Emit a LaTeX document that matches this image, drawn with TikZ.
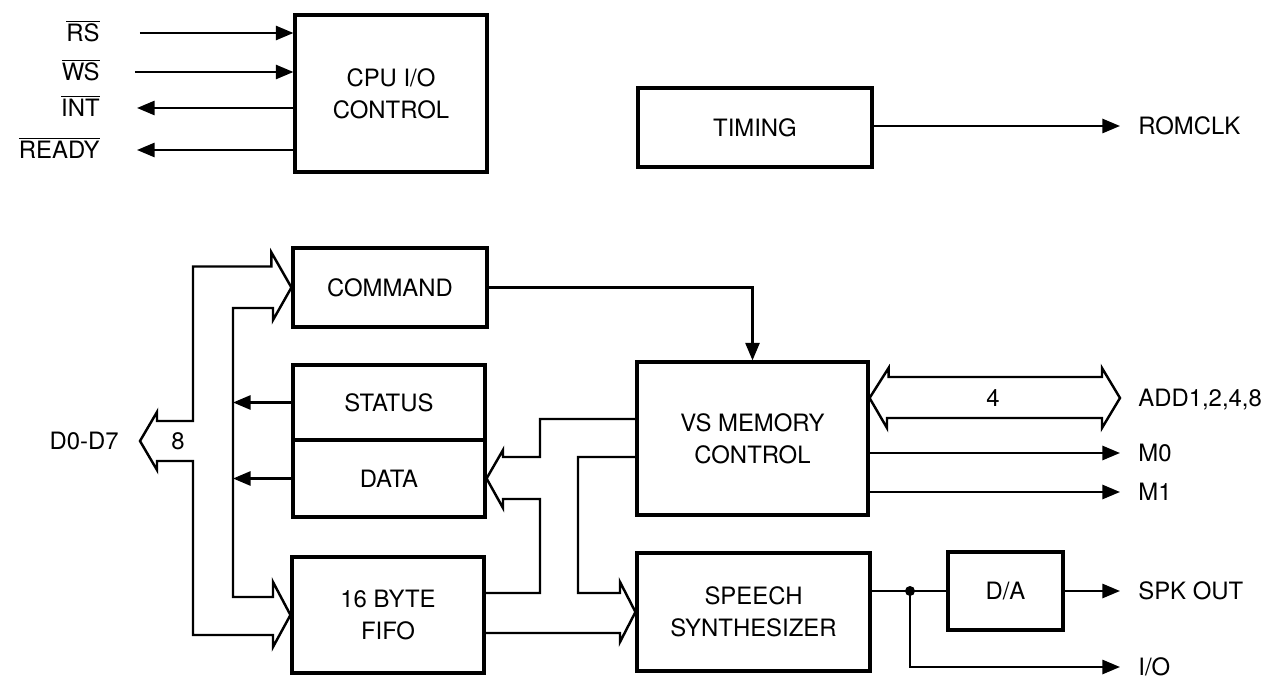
\documentclass[tikz,border=0pt]{standalone}
\usepackage{fontspec}
\setmainfont{TeX Gyre Heros}
\usepackage{tikz}
\usetikzlibrary{arrows.meta}
\newcommand{\nsig}[1]{$\overline{\hbox{#1}}$}
\tikzset{blk/.style={draw, line width=1.8pt, inner sep=0pt, align=center},
  sig/.style={line width=1.4pt, -{Triangle[length=10pt, width=8pt]}},
  sigout/.style={sig, shorten >=0.36cm},
  bus/.style={line width=1.4pt, line join=miter},
  pin/.style={inner sep=0pt, text height=9.8pt, text depth=0pt}}

\begin{document}
\begin{tikzpicture}[x=0.02cm, y=-0.02cm, font=\fontsize{13.6}{18}\selectfont]
\useasboundingbox (0,0) rectangle (1268,682);
\node[blk, minimum width=3.84cm, minimum height=3.14cm] (cpu) at (391,93.5) {CPU I/O\\CONTROL};
\node[blk, minimum width=4.68cm, minimum height=1.58cm] (timing) at (755,127.5) {TIMING};
\node[blk, minimum width=3.88cm, minimum height=1.58cm] (command) at (390,287.5) {COMMAND};
\node[blk, minimum width=3.84cm, minimum height=1.50cm] (status) at (389,402.5) {STATUS};
\node[blk, minimum width=3.84cm, minimum height=1.54cm] (data) at (389,478.5) {DATA};
\node[blk, minimum width=3.84cm, minimum height=2.32cm] (fifo) at (388,615) {16 BYTE\\FIFO};
\node[blk, minimum width=4.62cm, minimum height=3.06cm] (vs) at (752.5,438.5) {VS MEMORY\\CONTROL};
\node[blk, minimum width=4.66cm, minimum height=2.36cm] (speech) at (753.5,612) {SPEECH\\SYNTHESIZER};
\node[blk, minimum width=2.30cm, minimum height=1.56cm] (da) at (1005.5,591) {D/A};

\node[pin, anchor=east] (rs) at (100,33) {\nsig{RS}};
\node[pin, anchor=east] (ws) at (100,72) {\nsig{WS}};
\node[pin, anchor=east] (int) at (100,108) {\nsig{INT}};
\node[pin, anchor=east] (ready) at (100,150) {\nsig{READY}};
\node[pin, anchor=east] (d07) at (119,441) {D0-D7};
\node[pin, anchor=west] (romclk) at (1138,126) {ROMCLK};
\node[pin, anchor=west] (add) at (1138,398) {ADD1,2,4,8};
\node[pin, anchor=west] (m0) at (1138,453) {M0};
\node[pin, anchor=west] (m1) at (1138,492) {M1};
\node[pin, anchor=west] (spk) at (1138,591) {SPK OUT};
\node[pin, anchor=west] (io) at (1138,667) {I/O};
\node[pin] (w8) at (178,441) {8};
\node[pin] (w4) at (993,398) {4};

\draw[sig, shorten <=0.8cm] (rs.east) -- (rs.east -| cpu.west);
\draw[sig, shorten <=0.7cm] (ws.east) -- (ws.east -| cpu.west);
\draw[sig, shorten >=0.74cm] (int.east -| cpu.west) -- (int.east);
\draw[sig, shorten >=0.74cm] (ready.east -| cpu.west) -- (ready.east);
\draw[sigout] (timing.east |- romclk) -- (romclk.west);

\coordinate (dbus) at (140,441);
\draw[bus] (command.west) -- ++(-20,-35) -- ++(0,14) -| (193,421) -- (157,421) -- (157,412)
  -- (dbus) -- (157,470) -- (157,461) -| (193,635) -- (273,635) -- (273,647) -- (fifo.west)
  -- (273,582) -- (273,597) -| (233,308) -- (273,308) -- (273,320) -- cycle;
\coordinate (inr) at (233,0);
\draw[sig] (status.west) -- (status.west -| inr);
\draw[sig] (data.west) -- (data.west -| inr);

\draw[bus] ([yshift=0.39cm]vs.west) -| (540,457) -- (503,457) -- (503,450) -- (data.east)
  -- (503,508) -- (503,499) -| (540,593) -- ([yshift=0.44cm]fifo.east);
\draw[bus] ([yshift=-0.37cm]vs.west) -| (578,593) -- (620,593) -- (620,582) -- (speech.west)
  -- (620,642) -- (620,633) -- ([yshift=-0.36cm]fifo.east);
\draw[sig] (command.east) -| (vs.north);

\draw[bus] ([yshift=0.81cm]vs.east) -- ++(19,-30) -- ++(0,9) -- (1102,377) -- (1102,368)
  -- (1120,398) -- (1102,428) -- (1102,418) -- (887,418) -- (887,428) -- cycle;
\draw[sigout] (vs.east |- m0) -- (m0.west);
\draw[sigout] (vs.east |- m1) -- (m1.west);

\coordinate (jn) at (910,591);
\draw[line width=1.4pt] (speech.east |- da) -- (da.west);
\fill (jn) circle (0.1cm);
\draw[sigout] (da.east) -- (spk.west);
\draw[sigout] (jn) |- (io.west);
\end{tikzpicture}
\end{document}
